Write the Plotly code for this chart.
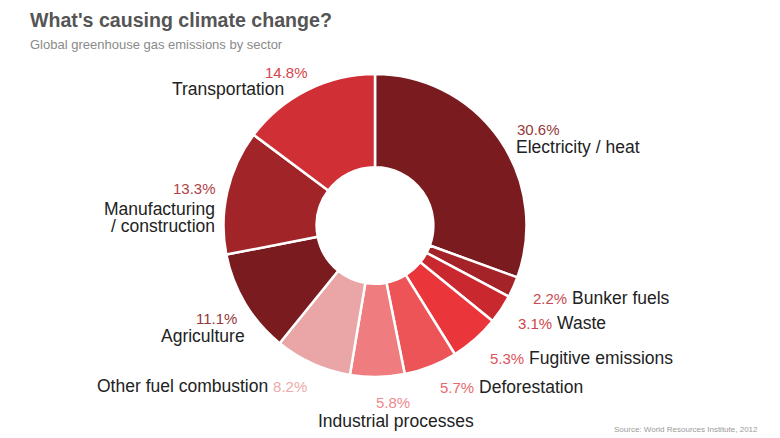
import plotly.graph_objects as go

W, H = 780, 438
OFF = 8  # page body margin offset

sectors = ["Electricity / heat", "Bunker fuels", "Waste", "Fugitive emissions",
           "Deforestation", "Industrial processes", "Other fuel combustion",
           "Agriculture", "Manufacturing / construction", "Transportation"]
shares = [30.6, 2.2, 3.1, 5.3, 5.7, 5.8, 8.2, 11.1, 13.3, 14.8]
slice_colors = ["#7a1c1f", "#a32329", "#c8282e", "#ea353b", "#ec5458",
                "#ef7c7f", "#eaa5a6", "#7a1c1f", "#a02428", "#cf2f35"]
pct_colors = ["#93393c", "#c94a50", "#d0454b", "#e0525a", "#e86a6e",
              "#ec8a8d", "#eeaaab", "#93393c", "#b14046", "#d5454b"]

fig = go.Figure()
cx, cy, R = 375 - OFF, 225.5 - OFF, 151.5
fig.add_trace(go.Pie(
    labels=sectors, values=shares, sort=False, direction="clockwise", rotation=0,
    hole=0.385, textinfo="none", hoverinfo="skip",
    marker=dict(colors=slice_colors, line=dict(color="white", width=2.5)),
    domain=dict(x=[(cx - R) / W, (cx + R) / W], y=[1 - (cy + R) / H, 1 - (cy - R) / H]),
    showlegend=False,
))

NAME = "#222222"
FONT = "Liberation Sans, Arial, Helvetica, sans-serif"

def ann(x, y, text, anchor="left", size=17.5, color=NAME):
    fig.add_annotation(x=(x - OFF) / W, y=1 - (y - OFF) / H, xref="paper", yref="paper",
                       text=text, showarrow=False, xanchor=anchor, yanchor="middle",
                       borderpad=0, font=dict(size=size, color=color, family=FONT))

def pct(i):
    return f"{shares[i]:.1f}%"

def span(i, size=15):
    return f"<span style='color:{pct_colors[i]};font-size:{size}px'>{pct(i)}</span>"

# Electricity / heat
ann(516, 129, pct(0), "left", 15, pct_colors[0])
ann(515, 147, sectors[0], "left")
# Bunker fuels, Waste, Fugitive, Deforestation
ann(532, 298, span(1) + " " + sectors[1], "left")
ann(517, 323, span(2) + " " + sectors[2], "left")
ann(489, 358, span(3) + " " + sectors[3], "left")
ann(439, 387, span(4) + " " + sectors[4], "left")
# Industrial processes
ann(393, 402, pct(5), "center", 15, pct_colors[5])
ann(396, 421, sectors[5], "center")
# Other fuel combustion
ann(308, 386, sectors[6] + " " + span(6), "right")
# Agriculture
ann(238, 318, pct(7), "right", 15, pct_colors[7])
ann(246, 336, sectors[7], "right")
# Manufacturing / construction
man_a, man_b = sectors[8].split(" / ")
ann(217, 188, pct(8), "right", 15, pct_colors[8])
ann(216, 209, man_a, "right")
ann(216, 226, "/ " + man_b, "right")
# Transportation
ann(309, 72, pct(9), "right", 15, pct_colors[9])
ann(285, 89, sectors[9], "right")

# Titles
ann(29, 20, "<b>What's causing climate change?</b>", "left", 19.6, "#555555")
ann(29, 44, "Global greenhouse gas emissions by sector", "left", 13, "#8a8a8a")
ann(759, 429, "Source: World Resources Institute, 2012", "right", 8, "#9a9a9a")

fig.update_layout(
    width=W, height=H, margin=dict(l=0, r=0, t=0, b=0),
    paper_bgcolor="white", plot_bgcolor="white", hovermode=False,
)

fig.write_html("out.html")
